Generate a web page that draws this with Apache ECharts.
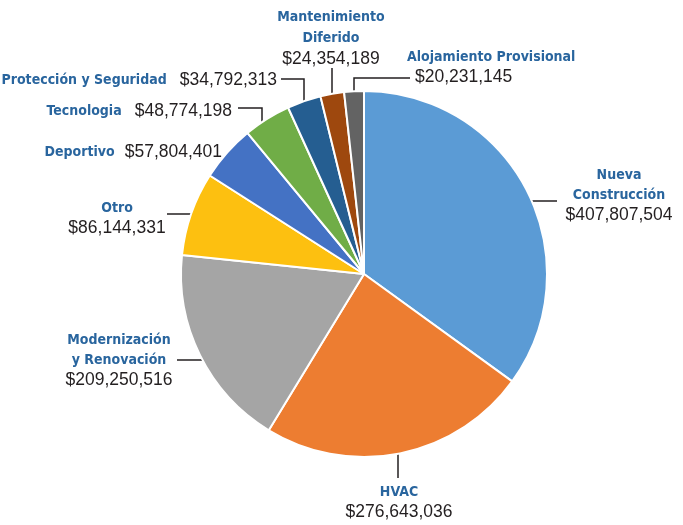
<!DOCTYPE html>
<html>
<head>
<meta charset="utf-8">
<script src="https://cdn.jsdelivr.net/npm/echarts@6/dist/echarts.min.js"></script>
<style>
  html, body { margin: 0; padding: 0; background: #fff; }
  #chart { width: 683px; height: 525px; }
</style>
</head>
<body>
<div id="chart"></div>
<script>
// datos del gráfico
const categories = [
  "Nueva Construcción",
  "HVAC",
  "Modernización y Renovación",
  "Otro",
  "Deportivo",
  "Tecnologia",
  "Protección y Seguridad",
  "Mantenimiento Diferido",
  "Alojamiento Provisional"
];
const labelNames = [
  "Nueva\nConstrucción",
  "HVAC",
  "Modernización\ny Renovación",
  "Otro",
  "Deportivo",
  "Tecnologia",
  "Protección y Seguridad",
  "Mantenimiento\nDiferido",
  "Alojamiento Provisional"
];
const values = [407807504, 276643036, 209250516, 86144331, 57804401, 48774198, 34792313, 24354189, 20231145];
const colors = ["#5b9bd5", "#ed7d31", "#a5a5a5", "#fdc010", "#4472c4", "#70ad47", "#255e91", "#9e480e", "#636363"];

// posición de las etiquetas y líneas guía
const labelSpots = [
  { x: 619, y: 195, align: "center", line: [[532, 201], [545, 201], [557, 201]] },
  { x: 399, y: 502, align: "center", line: [[398, 454], [398, 466], [398, 478]] },
  { x: 119, y: 360, align: "center", line: [[203, 360], [190, 360], [177, 360]] },
  { x: 117, y: 218, align: "center", line: [[191, 214], [180, 214], [167, 214]] },
  { x: 222, y: 152, align: "right", line: null, gap: 10 },
  { x: 232, y: 111, align: "right", line: [[262, 122], [262, 108], [238, 108]], gap: 13 },
  { x: 277, y: 80, align: "right", line: [[304, 101], [304, 79], [281, 79]], gap: 13 },
  { x: 331, y: 38, align: "center", line: [[332, 94], [332, 81], [332, 68]], lh: 21 },
  { x: 407, y: 67, align: "left", line: [[354, 92], [354, 78], [410, 78]], indent: 8 }
];

const nameFont = '"Liberation Sans Narrow", "DejaVu Sans Condensed", sans-serif';
const valueFont = '"Liberation Sans", Arial, sans-serif';
const nameSize = 14;
const nameColor = "#29659e";
const valueColor = "#231f20";

function money(v) {
  return "$" + String(v).replace(/\B(?=(\d{3})+(?!\d))/g, ",");
}

const rich = {};
["left", "center"].forEach(a => {
  [20, 21].forEach(lh => {
    rich["n_" + a + lh] = { fontFamily: nameFont, fontWeight: "bold", fontSize: nameSize, color: nameColor, align: a, lineHeight: lh };
    rich["v_" + a + lh] = { fontFamily: valueFont, fontSize: 17.5, color: valueColor, align: a, lineHeight: lh };
  });
});
rich.v_indent = { fontFamily: valueFont, fontSize: 17.5, color: valueColor, align: "left", lineHeight: 20, padding: [0, 0, 0, 8] };
[10, 13].forEach(g => {
  rich["vg" + g] = { fontFamily: valueFont, fontSize: 17.5, color: valueColor, padding: [0, 0, 0, g], lineHeight: 20 };
});
rich.ni = { fontFamily: nameFont, fontWeight: "bold", fontSize: nameSize, color: nameColor, lineHeight: 20 };

const seriesData = categories.map((c, i) => ({
  name: c,
  value: values[i],
  itemStyle: { color: colors[i] },
  labelLine: { show: !!labelSpots[i].line }
}));

const chart = echarts.init(document.getElementById("chart"));
chart.setOption({
  animation: false,
  series: [{
    type: "pie",
    center: [364, 274],
    radius: 183,
    startAngle: 90,
    clockwise: true,
    avoidLabelOverlap: false,
    itemStyle: { borderColor: "#fff", borderWidth: 2 },
    label: {
      show: true,
      position: "outside",
      overflow: "none",
      rich: rich,
      formatter: function (p) {
        const spot = labelSpots[p.dataIndex];
        const val = money(p.value);
        if (spot.gap) {
          return "{ni|" + labelNames[p.dataIndex] + "}{vg" + spot.gap + "|" + val + "}";
        }
        const lh = spot.lh || 20;
        const a = spot.align === "left" ? "left" : "center";
        const lines = labelNames[p.dataIndex].split("\n").map(l => "{n_" + a + lh + "|" + l + "}");
        const vStyle = spot.indent ? "v_indent" : "v_" + a + lh;
        return lines.join("\n") + "\n{" + vStyle + "|" + val + "}";
      }
    },
    labelLine: {
      show: true,
      length: 10,
      length2: 10,
      smooth: false,
      lineStyle: { color: "#231f20", width: 1.5 }
    },
    labelLayout: function (params) {
      const spot = labelSpots[params.dataIndex];
      const out = { x: spot.x, y: spot.y, align: spot.align, verticalAlign: "middle" };
      if (spot.line) out.labelLinePoints = spot.line;
      return out;
    },
    emphasis: { disabled: true },
    data: seriesData
  }]
});
</script>
</body>
</html>
